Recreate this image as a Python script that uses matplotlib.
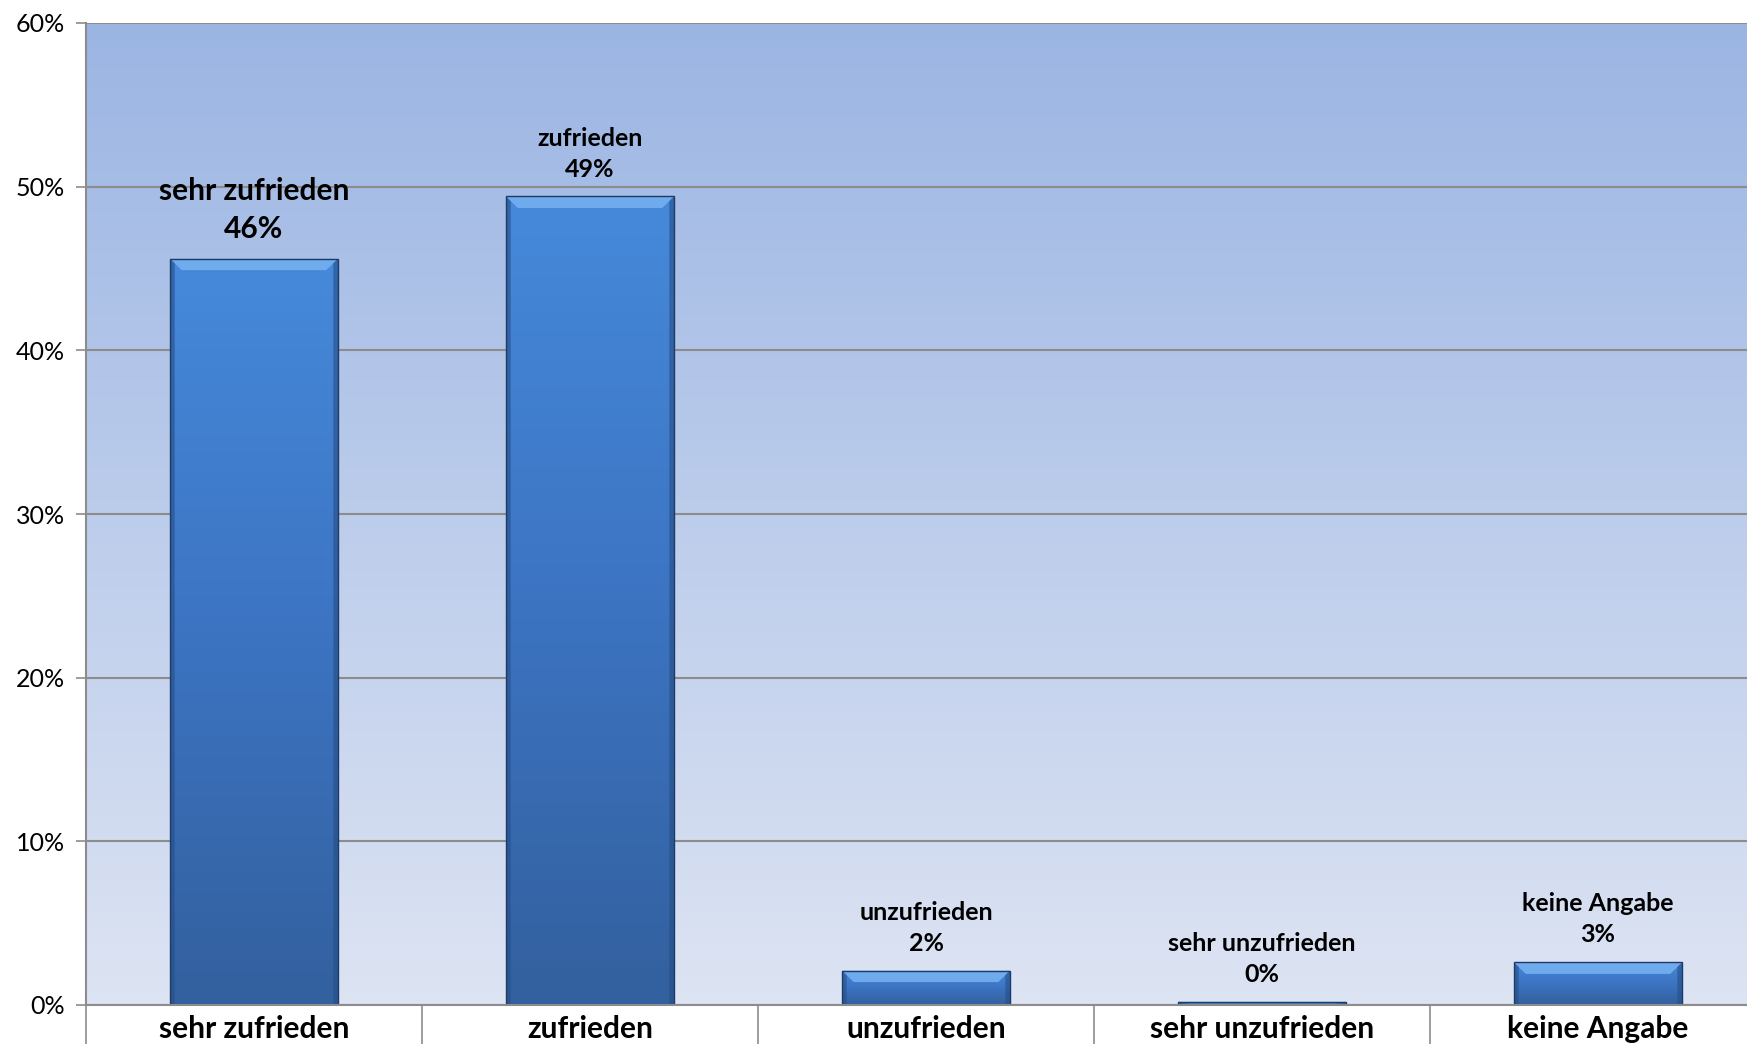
import numpy as np
import matplotlib.pyplot as plt
from matplotlib.colors import LinearSegmentedColormap
from matplotlib.patches import Polygon

categories = ['sehr zufrieden', 'zufrieden', 'unzufrieden', 'sehr unzufrieden', 'keine Angabe']
values = [45.6, 49.4, 2.1, 0.2, 2.6]
label_sizes = [21.5, 18, 18, 18, 18]
yticks = [0, 10, 20, 30, 40, 50, 60]

plt.rcParams['font.family'] = ['Lato', 'DejaVu Sans']

fig = plt.figure(figsize=(17.47, 10.44), dpi=100)
ax = fig.add_axes([86 / 1747, 39 / 1044, 1680 / 1747, 982 / 1044])

# plot area background: light at bottom, stronger blue at top
bg = LinearSegmentedColormap.from_list('bg', ['#DDE4F3', '#9BB5E3'])
grad = np.linspace(0, 1, 256).reshape(-1, 1)
ax.imshow(grad, cmap=bg, extent=(0, 1, 0, 1), transform=ax.transAxes,
          origin='lower', aspect='auto', zorder=0)

x = np.arange(len(categories))
bars = ax.bar(x, values, width=0.5, color='none', edgecolor='#1E3A66',
              linewidth=1.0, zorder=4)

barcm = LinearSegmentedColormap.from_list('bar', ['#33609E', '#3C74C2', '#4689DB'])
dx = 0.035
for b in bars:
    x0, w, h = b.get_x(), b.get_width(), b.get_height()
    im = ax.imshow(grad, cmap=barcm, extent=(x0, x0 + w, 0, h), origin='lower',
                   aspect='auto', zorder=3)
    im.set_clip_path(b)
    dy = min(0.7, h / 2)
    # bevel: light top, darker sides
    ax.add_patch(Polygon([(x0, h), (x0 + w, h), (x0 + w - dx, h - dy), (x0 + dx, h - dy)],
                         closed=True, facecolor='#78B2F2', edgecolor='none', alpha=0.85, zorder=3.5))
    ax.add_patch(Polygon([(x0, 0), (x0 + dx * 0.4, 0), (x0 + dx * 0.4, h - dy * 0.4), (x0, h)],
                         closed=True, facecolor='#254E86', edgecolor='none', alpha=0.6, zorder=3.5))
    ax.add_patch(Polygon([(x0 + w, 0), (x0 + w - dx * 0.4, 0), (x0 + w - dx * 0.4, h - dy * 0.4), (x0 + w, h)],
                         closed=True, facecolor='#254E86', edgecolor='none', alpha=0.6, zorder=3.5))

for xi, v, cat, fs in zip(x, values, categories, label_sizes):
    ax.annotate(f'{cat}\n{v:.0f}%', (xi, v), xytext=(0, 11.5), textcoords='offset points',
                ha='center', va='bottom', fontsize=fs, fontweight='bold',
                linespacing=1.42, zorder=5)

ax.set_xlim(-0.5, len(categories) - 0.5)
ax.set_ylim(0, 60)
ax.set_yticks(yticks)
ax.set_yticklabels([f'{t}%' for t in yticks], fontsize=18)
ax.yaxis.grid(True, color='#8C8C8C', linewidth=1.5, zorder=1)
ax.set_axisbelow(False)
for gl in ax.get_ygridlines():
    gl.set_zorder(1)
ax.tick_params(axis='y', length=7, width=1.2, color='#8C8C8C', pad=8)

# category boundaries as long ticks, names on minor ticks
ax.set_xticks(np.arange(-0.5, len(categories)))
ax.set_xticklabels([])
ax.set_xticks(x, minor=True)
ax.set_xticklabels(categories, minor=True, fontsize=21.5, fontweight='bold')
ax.tick_params(axis='x', which='major', length=60, width=1.2, color='#8C8C8C')
ax.tick_params(axis='x', which='minor', length=0, pad=7)

for s in ['top', 'right']:
    ax.spines[s].set_visible(False)
ax.spines['left'].set_color('#8C8C8C')
ax.spines['left'].set_linewidth(1.5)
ax.spines['bottom'].set_color('#8C8C8C')
ax.spines['bottom'].set_linewidth(1.5)
ax.spines['bottom'].set_zorder(6)

fig.savefig('out.png', dpi=100)
